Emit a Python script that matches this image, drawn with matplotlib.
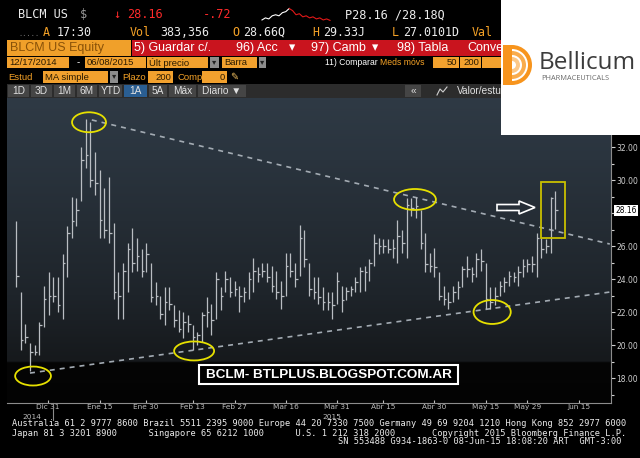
import numpy as np
import matplotlib
matplotlib.use("Agg")
import matplotlib.pyplot as plt
from matplotlib.colors import LinearSegmentedColormap
from matplotlib.patches import Rectangle, Ellipse, Polygon, Wedge

# Barras diarias BLCM US (18-dic-2014 a 08-jun-2015)
highs = [27.5, 23.2, 21.3, 20.1, 20.0, 21.4, 23.6, 24.4, 24.1, 24.1,
         25.5, 27.2, 29.0, 28.9, 32.0, 33.7, 33.5, 31.7, 30.6, 29.5,
         30.2, 27.4, 24.4, 25.0, 26.2, 27.1, 26.5, 25.8, 26.2, 25.0,
         23.8, 23.0, 23.5, 23.5, 22.4, 22.1, 22.0, 21.8, 21.2, 20.8,
         22.0, 22.9, 22.5, 24.4, 23.5, 24.5, 24.1, 23.9, 23.6, 23.5,
         24.4, 25.3, 24.7, 25.0, 25.0, 24.8, 24.5, 23.9, 25.6, 25.6,
         25.0, 27.3, 27.0, 25.0, 24.1, 24.1, 23.5, 23.2, 23.2, 24.4,
         23.6, 23.5, 23.6, 24.1, 24.7, 24.8, 25.2, 26.7, 26.5, 26.4,
         26.4, 26.4, 27.6, 27.0, 28.9, 28.9, 29.0, 28.2, 26.8, 25.6,
         25.9, 24.4, 23.6, 23.2, 23.6, 23.9, 24.8, 25.4, 24.7, 25.6,
         25.8, 25.0, 23.5, 23.5, 23.9, 24.1, 24.5, 24.4, 24.8, 25.2,
         25.2, 25.4, 26.8, 26.5, 26.4, 29.0, 29.33]
lows = [23.5, 19.7, 20.1, 18.4, 19.4, 19.4, 21.1, 21.8, 22.6, 22.0,
        21.6, 24.1, 26.5, 27.2, 28.7, 30.7, 29.6, 29.1, 26.5, 26.5,
        26.2, 22.8, 21.6, 21.6, 23.2, 24.4, 24.5, 24.1, 24.4, 22.6,
        22.4, 21.6, 21.2, 22.1, 21.1, 20.8, 20.4, 20.8, 19.7, 20.0,
        20.2, 21.1, 20.6, 21.6, 22.1, 23.2, 22.9, 23.0, 22.0, 22.6,
        22.8, 23.2, 23.8, 24.1, 23.8, 23.2, 22.8, 22.2, 23.0, 24.1,
        23.5, 24.2, 24.7, 23.0, 22.8, 22.5, 22.1, 22.1, 21.6, 22.5,
        22.0, 22.7, 23.0, 23.2, 23.2, 23.3, 23.9, 24.8, 25.5, 25.6,
        25.6, 25.3, 25.0, 25.6, 25.3, 27.8, 27.7, 25.8, 24.4, 24.4,
        24.1, 22.7, 22.4, 22.2, 22.6, 22.8, 23.5, 24.1, 23.8, 24.1,
        24.5, 22.2, 22.2, 22.4, 23.0, 23.2, 23.6, 23.8, 23.6, 24.1,
        24.4, 24.4, 24.1, 25.3, 25.6, 25.6, 27.01]
closes = [24.2, 20.3, 20.5, 19.6, 19.6, 21.2, 22.8, 23.0, 23.0, 22.4,
          25.0, 26.8, 27.5, 28.2, 31.2, 31.5, 30.0, 29.8, 27.6, 27.0,
          26.8, 23.2, 23.0, 24.5, 25.8, 25.0, 25.4, 24.5, 25.5, 22.9,
          23.0, 21.9, 22.6, 22.5, 21.5, 21.0, 21.4, 21.3, 20.5, 20.6,
          21.8, 22.0, 21.5, 24.0, 23.0, 24.0, 23.2, 23.4, 23.0, 23.2,
          24.0, 24.5, 24.3, 24.5, 24.1, 23.6, 23.2, 23.0, 24.8, 24.5,
          24.0, 26.5, 25.2, 23.4, 23.2, 22.9, 22.6, 22.6, 22.4, 23.9,
          22.7, 23.3, 23.4, 23.8, 24.5, 24.4, 25.0, 26.2, 26.0, 26.0,
          25.8, 25.9, 26.6, 26.2, 28.5, 28.3, 28.4, 26.2, 24.9, 24.8,
          24.7, 23.0, 22.8, 22.6, 23.2, 23.5, 24.6, 24.6, 24.3, 25.2,
          25.1, 22.8, 22.6, 23.0, 23.6, 23.8, 24.2, 24.1, 24.4, 24.8,
          24.9, 24.9, 26.5, 25.8, 26.0, 28.88, 28.16]

# Eje X: posicion (indice de barra) de las fechas rotuladas
tick_pos = [6.9, 18, 28, 38, 47, 58, 69, 79, 90, 101, 110, 121]
tick_labels = ["Dic 31", "Ene 15", "Ene 30", "Feb 13", "Feb 27", "Mar 16",
               "Mar 31", "Abr 15", "Abr 30", "May 15", "May 29", "Jun 15"]
y_major = [18, 20, 22, 24, 26, 30, 32]
y_minor = [17, 19, 21, 23, 25, 27, 28, 29, 31, 33]

# Lineas de tendencia (indice, precio)
upper_x, upper_y = [16.3, 127.7], [33.64, 26.12]
lower_x, lower_y = [3.0, 127.7], [18.3, 23.21]

# Elipses amarillas: (indice, precio, ancho, alto)
circles = [(15.7, 33.5, 7.3, 1.21), (3.66, 18.12, 7.7, 1.15),
           (38.3, 19.64, 8.6, 1.15), (85.8, 28.82, 9.0, 1.27),
           (102.4, 22.0, 8.0, 1.45)]
box_x, box_y = (112.9, 118.1), (26.48, 29.88)

# Mini grafico intradia de la cabecera
spark_white = [28.2, 28.4, 28.3, 28.6, 28.7, 28.6, 28.9, 29.0, 29.3]
spark_red = [29.3, 29.1, 28.7, 28.8, 28.5, 28.6, 28.4, 28.5, 28.3, 28.4,
             28.2, 28.3, 28.16]

W, H = 640, 458
fig = plt.figure(figsize=(6.4, 4.58), dpi=100, facecolor="black")
ax = fig.add_axes([7 / W, 1 - 403 / H, 604 / W, 305 / H])
ov = fig.add_axes([0, 0, 1, 1], zorder=5)
ov.set_xlim(0, W)
ov.set_ylim(H, 0)
ov.axis("off")
ov.patch.set_alpha(0)

# ---- area del grafico ----
x0, x1 = -1.94, 127.96
y0, y1 = 16.485, 34.97
bg = LinearSegmentedColormap.from_list(
    "bbg", [(0, "#030303"), (0.13, "#050505"), (0.135, "#16191c"),
            (0.35, "#1e242a"), (0.6, "#252d35"), (0.8, "#2a343e"), (1, "#2f3a45")])
ax.imshow(np.linspace(0, 1, 300).reshape(-1, 1), extent=[x0, x1, y0, y1],
          origin="lower", aspect="auto", cmap=bg, zorder=0)

idx = np.arange(len(highs))
ax.vlines(idx, lows, highs, color="#b9bdc2", lw=0.9, zorder=3)
ax.hlines(closes, idx, idx + 0.55, color="#b9bdc2", lw=0.9, zorder=3)

ax.plot(upper_x, upper_y, color="#a3abb3", lw=1.2, ls=(0, (3, 3)), zorder=2)
ax.plot(lower_x, lower_y, color="#a3abb3", lw=1.2, ls=(0, (3, 3)), zorder=2)
for cx, cy, w, h in circles:
    ax.add_patch(Ellipse((cx, cy), w, h, fill=False, ec="#e6e000", lw=1.3, zorder=4))
ax.add_patch(Rectangle((box_x[0], box_y[0]), box_x[1] - box_x[0], box_y[1] - box_y[0],
                       fill=False, ec="#c9c000", lw=1.3, zorder=4))

ax.set_xlim(x0, x1)
ax.set_ylim(y0, y1)
ax.yaxis.tick_right()
ax.set_yticks(y_major)
ax.set_yticklabels([f"{v:.2f}" for v in y_major])
ax.set_yticks(y_minor, minor=True)
ax.tick_params(axis="y", which="both", colors="#d0d0d0", labelsize=5.5,
               length=3, width=0.8, pad=1)
ax.tick_params(axis="y", which="minor", length=2)
ax.set_xticks(tick_pos)
ax.set_xticklabels(tick_labels)
ax.tick_params(axis="x", colors="#bdbdbd", labelsize=5.3, length=2, pad=0.5,
               direction="in")
for s in ["top", "left"]:
    ax.spines[s].set_visible(False)
for s in ["bottom", "right"]:
    ax.spines[s].set_color("#8c8c8c")
ax.annotate(f"{closes[-1]:.2f}", xy=(1.0, closes[-1]), xycoords=("axes fraction", "data"),
            xytext=(3, 0), textcoords="offset points", fontsize=5.5, color="black",
            va="center", bbox=dict(boxstyle="square,pad=0.15", fc="white", ec="none"))

# flecha blanca hacia la ruptura
ov.add_patch(Polygon([(497, 204.5), (519, 204.5), (519, 201), (535, 207.5),
                      (519, 214), (519, 210.5), (497, 210.5)],
                     closed=True, fill=False, ec="white", lw=1.2))

# marca de agua
ov.add_patch(Rectangle((199, 365), 259, 19, fc="black", ec="white", lw=1.5))
ov.text(328.5, 375, "BCLM- BTLPLUS.BLOGSPOT.COM.AR", color="white", fontsize=9.7,
        fontweight="bold", family="Liberation Sans", ha="center", va="center")

# anos y separador
ov.text(32, 417, "2014", color="#bdbdbd", fontsize=5.3, ha="center", va="center")
ov.text(332, 417, "2015", color="#bdbdbd", fontsize=5.3, ha="center", va="center")
ov.plot([53, 53], [403, 420], color="#8c8c8c", lw=0.8)

# ---- cabecera ----
MONO = ["DejaVu Sans Mono"]
SANS = ["Liberation Sans", "DejaVu Sans"]
WHITE, ORANGE, RED = "#ececec", "#f5a227", "#ff2a2a"

row1 = [(18, "BLCM US", WHITE), (80, "$", "#9a9a9a"), (113, "↓", RED),
        (127, "28.16", RED), (203, "-.72", RED), (345, "P28.16 /28.18Q", WHITE)]
for x, t, c in row1:
    ov.text(x, 15, t, color=c, fontsize=8.6, family=MONO, va="center")
row2 = [(43, "A", ORANGE), (57, "17:30", WHITE), (130, "Vol", ORANGE),
        (160, "383,356", WHITE), (232, "O", ORANGE), (243, "28.66Q", WHITE),
        (312, "H", ORANGE), (323, "29.33J", WHITE), (392, "L", ORANGE),
        (403, "27.0101D", WHITE), (472, "Val", ORANGE)]
for x, t, c in row2:
    ov.text(x, 32, t, color=c, fontsize=8.4, family=MONO, va="center")
ov.text(18, 34, ".....", color="#777777", fontsize=5, family=MONO, va="center")

sx = np.linspace(262, 330, len(spark_white) + len(spark_red) - 1)
allv = np.array(spark_white + spark_red[1:])
sy = 21 - (allv - 28.1) / (29.35 - 28.1) * 13
n = len(spark_white)
ov.plot(sx[:n], sy[:n], color="white", lw=0.8)
ov.plot(sx[n - 1:], sy[n - 1:], color="#e01818", lw=0.8)

# fila 3
ov.add_patch(Rectangle((7, 40), 124, 16, fc="#f0a02a", ec="none"))
ov.text(10, 48, "BLCM US Equity", color="#8a5208", fontsize=9, family=SANS, va="center")
ov.add_patch(Rectangle((132, 40), 369, 16, fc="#c9141e", ec="none"))
for x, t in [(134, "5) Guardar c/."), (236, "96) Acc"), (289, "▾"), (311, "97) Camb"),
             (372, "▾"), (397, "98) Tabla"), (467, "Conve")]:
    ov.text(x, 48, t, color="white", fontsize=9, family=SANS, va="center")

# fila 4
def obox(x, w, y, h, t, ha="left"):
    ov.add_patch(Rectangle((x, y), w, h, fc="#f2a12e", ec="none"))
    tx = x + 2 if ha == "left" else x + w - 2
    ov.text(tx, y + h / 2, t, color="#2a1a00", fontsize=6.8, family=SANS, va="center", ha=ha)

def gbox(x, w, y, h):
    ov.add_patch(Rectangle((x, y), w, h, fc="#8d8d8d", ec="none"))
    ov.text(x + w / 2, y + h / 2, "▾", color="#222222", fontsize=6, family=SANS,
            ha="center", va="center")

obox(7, 62, 57, 11, "12/17/2014")
ov.text(77, 62.5, "-", color="white", fontsize=7, family=SANS, va="center")
obox(85, 61, 57, 11, "06/08/2015")
obox(147, 61, 57, 11, "Últ precio")
gbox(210, 9, 57, 11)
obox(222, 35, 57, 11, "Barra")
gbox(259, 7, 57, 11)
ov.text(325, 62.5, "11) Comparar", color="white", fontsize=6.2, family=SANS, va="center")
ov.text(380, 62.5, "Meds móvs", color=ORANGE, fontsize=6.2, family=SANS, va="center")
obox(433, 26, 57, 11, "50", ha="right")
obox(460, 21, 57, 11, "200", ha="right")
obox(482, 19, 57, 11, "")

# fila 5
ov.text(8, 77, "Estud", color=ORANGE, fontsize=6.8, family=SANS, va="center")
obox(43, 65, 71, 12, "MA simple")
gbox(110, 8, 71, 12)
ov.text(122, 77, "Plazo", color=ORANGE, fontsize=6.8, family=SANS, va="center")
obox(148, 25, 71, 12, "200", ha="right")
ov.text(177, 77, "Comp", color=ORANGE, fontsize=6.8, family=SANS, va="center")
obox(202, 25, 71, 12, "0", ha="right")
ov.text(230, 77, "✎", color="#f2c060", fontsize=7, family=["DejaVu Sans"], va="center")

# fila 6: pestanas
ov.add_patch(Rectangle((7, 84), 494, 14, fc="#2c2c2c", ec="none"))
tabs = [(7, 30, "1D"), (30, 53, "3D"), (53, 76, "1M"), (76, 98, "6M"), (98, 123, "YTD"),
        (123, 148, "1A"), (148, 168, "5A"), (168, 197, "Máx"), (197, 247, "Diario ▼")]
for a, b, t in tabs:
    fc = "#2a5e92" if t == "1A" else "#454545"
    ov.add_patch(Rectangle((a + 1, 85), b - a - 2, 12, fc=fc, ec="none"))
    ov.text((a + b) / 2, 91, t, color="#e0e0e0", fontsize=7.3, family=SANS,
            ha="center", va="center")
ov.add_patch(Rectangle((405, 85), 16, 12, fc="#454545", ec="none"))
ov.text(413, 91, "«", color="#e0e0e0", fontsize=7.3, family=SANS, ha="center", va="center")
ov.plot([437, 440, 443, 447], [95, 89, 92, 87], color="#d0d0d0", lw=0.8)
ov.text(457, 91, "Valor/estudio", color="#e0e0e0", fontsize=7.3, family=SANS, va="center",
        clip_on=True)

# ---- logo Bellicum ----
ov.add_patch(Rectangle((501, 0), 139, 135, fc="white", ec="none", zorder=6))
for r, c in [(20, "#f7941d"), (14, "#f9ac4d"), (8, "#fcc888")]:
    ov.add_patch(Wedge((512, 65), r, -90, 90, width=4, fc=c, ec="none", zorder=7))
ov.add_patch(Rectangle((503, 45), 9, 40, fc="#f7941d", ec="none", zorder=7))
ov.text(539, 63, "Bellicum", color="#3c3c3c", fontsize=17.5, family=["Open Sans"],
        va="center", zorder=8)
ov.text(541, 78.5, "PHARMACEUTICALS", color="#6a6a6a", fontsize=5.3, family=["Open Sans"],
        va="center", zorder=8)

# ---- pie de pagina ----
foot1 = "Australia 61 2 9777 8600 Brazil 5511 2395 9000 Europe 44 20 7330 7500 Germany 49 69 9204 1210 Hong Kong 852 2977 6000"
foot2 = "Japan 81 3 3201 8900      Singapore 65 6212 1000      U.S. 1 212 318 2000       Copyright 2015 Bloomberg Finance L.P."
foot3 = "SN 553488 G934-1863-0 08-Jun-15 18:08:20 ART  GMT-3:00"
ov.text(12, 424, foot1, color=WHITE, fontsize=6.2, family=MONO, va="center")
ov.text(12, 433, foot2, color=WHITE, fontsize=6.2, family=MONO, va="center")
ov.text(622, 442, foot3, color=WHITE, fontsize=6.2, family=MONO, va="center", ha="right")

fig.savefig("out.png", dpi=100, facecolor="black")
